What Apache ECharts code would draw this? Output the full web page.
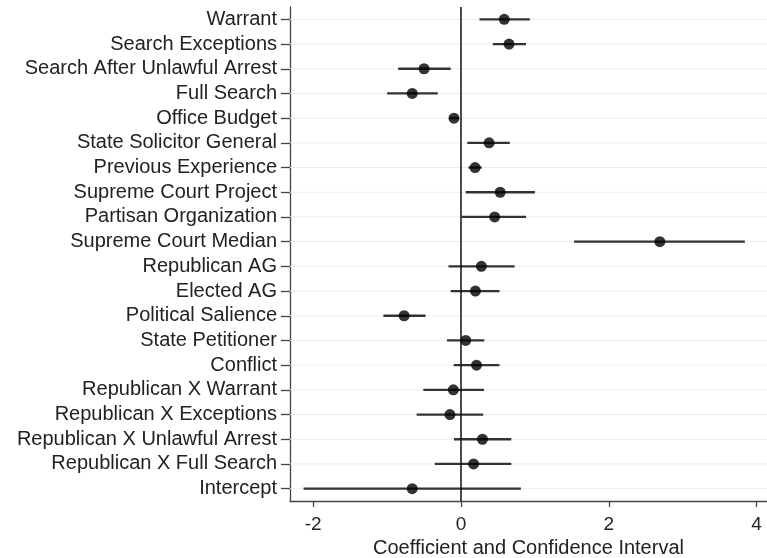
<!DOCTYPE html>
<html>
<head>
<meta charset="utf-8">
<script src="https://cdn.jsdelivr.net/npm/echarts@6/dist/echarts.min.js"></script>
<style>html,body{margin:0;padding:0;background:#fff}#c{width:767px;height:558px}</style>
</head>
<body>
<div id="c"></div>
<script>
var categories = ["Warrant","Search Exceptions","Search After Unlawful Arrest","Full Search","Office Budget","State Solicitor General","Previous Experience","Supreme Court Project","Partisan Organization","Supreme Court Median","Republican AG","Elected AG","Political Salience","State Petitioner","Conflict","Republican X Warrant","Republican X Exceptions","Republican X Unlawful Arrest","Republican X Full Search","Intercept"];
var estimates = [0.585,0.65,-0.50,-0.66,-0.095,0.38,0.19,0.53,0.455,2.69,0.275,0.195,-0.77,0.063,0.21,-0.104,-0.15,0.29,0.17,-0.66];
var lower = [0.25,0.43,-0.85,-1.00,-0.16,0.085,0.10,0.063,0.01,1.53,-0.17,-0.14,-1.05,-0.19,-0.10,-0.51,-0.60,-0.095,-0.355,-2.13];
var upper = [0.93,0.88,-0.14,-0.315,-0.03,0.66,0.28,1.00,0.88,3.84,0.725,0.52,-0.48,0.315,0.52,0.31,0.30,0.68,0.68,0.81];
var xTicks = [-2,0,2,4];

var font = "'Liberation Sans', Arial, Helvetica, sans-serif";
var ciData = categories.map(function(c,i){return [i, lower[i], upper[i]];});
var dotData = categories.map(function(c,i){return [estimates[i], i];});
var gridData = categories.map(function(c,i){return [i];});

var chart = echarts.init(document.getElementById('c'));
chart.setOption({
  animation:false,
  backgroundColor:'#fff',
  grid:{left:290, right:0, top:7, bottom:57, containLabel:false, outerBoundsMode:'none'},
  xAxis:{
    type:'value', min:-2.314, max:4.14,
    name:'Coefficient and Confidence Interval', nameLocation:'middle', nameGap:32,
    nameTextStyle:{fontFamily:font, fontSize:20, color:'#222'},
    axisLine:{show:true, onZero:false, lineStyle:{color:'#444', width:1.3}},
    axisTick:{show:true, length:6, customValues:xTicks, lineStyle:{color:'#444', width:1.3}},
    axisLabel:{customValues:xTicks, fontFamily:font, fontSize:19, color:'#222', margin:14},
    splitLine:{show:false}
  },
  yAxis:{
    type:'category', data:categories, inverse:true,
    axisLine:{show:true, onZero:false, lineStyle:{color:'#444', width:1.3}},
    axisTick:{show:true, interval:0, alignWithLabel:true, length:9, lineStyle:{color:'#444', width:1.3}},
    axisLabel:{interval:0, fontFamily:font, fontSize:20, color:'#222', margin:13},
    splitLine:{show:false}
  },
  series:[
    {
      type:'custom', z:1, silent:true,
      data:gridData, encode:{y:0},
      renderItem:function(params, api){
        var cs = params.coordSys;
        var p = api.coord([0, api.value(0)]);
        return {type:'line', shape:{x1:cs.x, y1:p[1], x2:cs.x+cs.width, y2:p[1]}, style:{stroke:'#ececec', lineWidth:1}};
      }
    },
    {
      type:'custom', z:3, silent:true,
      data:ciData, encode:{x:[1,2], y:0},
      renderItem:function(params, api){
        var a = api.coord([api.value(1), api.value(0)]);
        var b = api.coord([api.value(2), api.value(0)]);
        return {type:'line', shape:{x1:a[0], y1:a[1], x2:b[0], y2:b[1]}, style:{stroke:'#333', lineWidth:2.3}};
      }
    },
    {
      type:'scatter', z:4, data:dotData, symbol:'circle', symbolSize:11,
      itemStyle:{color:'#000'},
      markLine:{
        silent:true, symbol:'none', label:{show:false},
        lineStyle:{color:'#111', width:1.5, type:'solid'},
        data:[{xAxis:0}]
      }
    }
  ]
});
</script>
</body>
</html>
